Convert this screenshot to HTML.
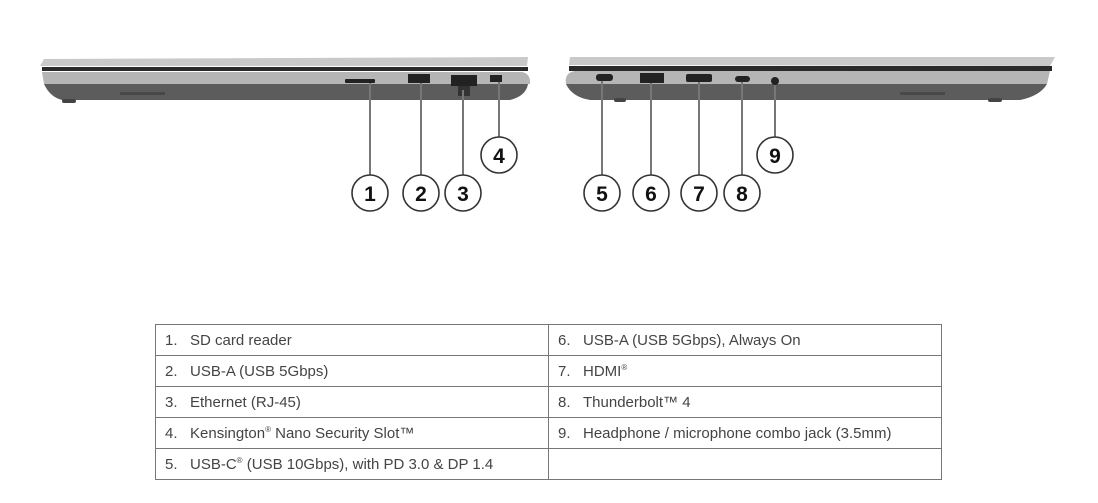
<!DOCTYPE html>
<html><head><style>
html,body{margin:0;padding:0;background:#fff;width:1098px;height:503px;overflow:hidden;font-family:"Liberation Sans",sans-serif}
.t{position:absolute;left:155px;top:324px;border-collapse:collapse;width:787px}
.t td{border:1px solid #777;height:30px;padding:0 0 0 9px;font-size:15px;color:#444;width:383px;white-space:nowrap}
.t span{display:inline-block;width:25px}
sup{font-size:8px}
</style></head><body>
<svg width="1098" height="320" style="position:absolute;left:0;top:0" font-family="Liberation Sans,sans-serif">
<!-- left laptop -->
<polygon points="40,66 44,59 528,57 527,66" fill="#c9c9c9"/>
<rect x="42" y="67" width="486" height="4" fill="#2a2a2a"/>
<path d="M42,72 L522,72 Q531,74 530,84 L44,84 Z" fill="#b5b5b5"/>
<path d="M44,84 L528,84 Q526,96 510,100 L62,100 Q50,97 44,84 Z" fill="#5c5c5c"/>
<rect x="62" y="99" width="14" height="4" rx="2" fill="#444"/>
<rect x="120" y="92" width="45" height="3" fill="#484848"/>
<rect x="345" y="79" width="30" height="4" rx="1" fill="#222"/>
<rect x="408" y="74" width="22" height="9" fill="#222"/>
<rect x="451" y="75" width="26" height="11" fill="#222"/>
<rect x="458" y="86" width="12" height="10" fill="#333"/>
<rect x="490" y="75" width="12" height="7" fill="#222"/>
<!-- right laptop -->
<polygon points="569,65 570,57 1055,57 1050,66" fill="#c9c9c9"/>
<rect x="569" y="66" width="483" height="5" fill="#2a2a2a"/>
<path d="M575,71 L1050,71 L1047,84 L566,84 Q564,73 575,71 Z" fill="#b5b5b5"/>
<path d="M566,84 L1047,84 Q1040,96 1020,100 L590,100 Q572,97 566,84 Z" fill="#5c5c5c"/>
<rect x="614" y="98" width="12" height="4" rx="2" fill="#444"/>
<rect x="988" y="98" width="14" height="4" rx="2" fill="#444"/>
<rect x="900" y="92" width="45" height="3" fill="#484848"/>
<rect x="596" y="74" width="17" height="7" rx="3" fill="#222"/>
<rect x="640" y="73" width="24" height="10" fill="#222"/>
<rect x="686" y="74" width="26" height="8" rx="2" fill="#222"/>
<rect x="735" y="76" width="15" height="6" rx="3" fill="#222"/>
<circle cx="775" cy="81" r="4" fill="#222"/>
<g stroke="#777" stroke-width="2">
<line x1="370" y1="83" x2="370" y2="175"/><line x1="421" y1="83" x2="421" y2="175"/>
<line x1="463" y1="90" x2="463" y2="175"/><line x1="499" y1="82" x2="499" y2="137"/>
<line x1="602" y1="81" x2="602" y2="175"/><line x1="651" y1="83" x2="651" y2="175"/>
<line x1="699" y1="82" x2="699" y2="175"/><line x1="742" y1="82" x2="742" y2="175"/>
<line x1="775" y1="85" x2="775" y2="137"/>
</g>
<g fill="#fff" stroke="#333" stroke-width="1.6">
<circle cx="370" cy="193" r="18"/><circle cx="421" cy="193" r="18"/><circle cx="463" cy="193" r="18"/><circle cx="499" cy="155" r="18"/>
<circle cx="602" cy="193" r="18"/><circle cx="651" cy="193" r="18"/><circle cx="699" cy="193" r="18"/><circle cx="742" cy="193" r="18"/><circle cx="775" cy="155" r="18"/>
</g>
<g font-size="21" font-weight="bold" fill="#111" text-anchor="middle">
<text x="370" y="201">1</text><text x="421" y="201">2</text><text x="463" y="201">3</text><text x="499" y="163">4</text>
<text x="602" y="201">5</text><text x="651" y="201">6</text><text x="699" y="201">7</text><text x="742" y="201">8</text><text x="775" y="163">9</text>
</g>
</svg>
<table class="t">
<tr><td><span>1.</span>SD card reader</td><td><span>6.</span>USB-A (USB 5Gbps), Always On</td></tr>
<tr><td><span>2.</span>USB-A (USB 5Gbps)</td><td><span>7.</span>HDMI<sup>®</sup></td></tr>
<tr><td><span>3.</span>Ethernet (RJ-45)</td><td><span>8.</span>Thunderbolt™ 4</td></tr>
<tr><td><span>4.</span>Kensington<sup>®</sup> Nano Security Slot™</td><td><span>9.</span>Headphone / microphone combo jack (3.5mm)</td></tr>
<tr><td><span>5.</span>USB-C<sup>®</sup> (USB 10Gbps), with PD 3.0 &amp; DP 1.4</td><td></td></tr>
</table>
</body></html>
